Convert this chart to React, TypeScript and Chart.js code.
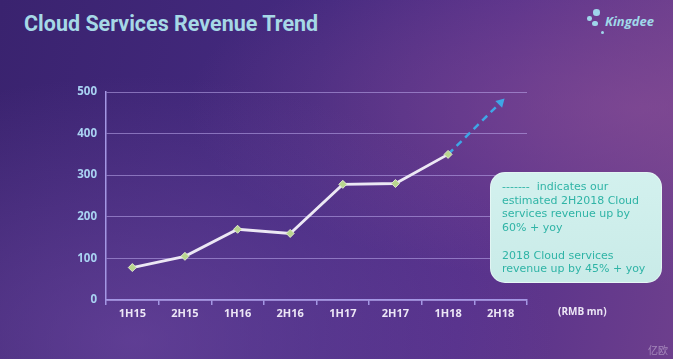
import React, { useEffect, useRef } from "react";
import { Chart, registerables } from "chart.js";

Chart.register(...registerables);

const categories = ["1H15", "2H15", "1H16", "2H16", "1H17", "2H17", "1H18", "2H18"];
const actualRevenue = [78, 105, 170, 160, 278, 280, 350, null];
const estimatedRevenue = [null, null, null, null, null, null, 350, 475];
const yMin = 0;
const yMax = 500;
const yStep = 100;

const titleText = "Cloud Services Revenue Trend";
const noteLines1 = ["-------  indicates our", "estimated 2H2018 Cloud", "services revenue up by", "60% + yoy"];
const noteLines2 = ["2018 Cloud services", "revenue up by 45% + yoy"];
const unitText = "(RMB mn)";

export default function App() {
  const canvasRef = useRef<HTMLCanvasElement | null>(null);

  useEffect(() => {
    const ctx = canvasRef.current;
    if (!ctx) return;
    const axisColor = "#a497e4";
    const chart = new Chart(ctx, {
      type: "line",
      data: {
        labels: categories,
        datasets: [
          {
            label: "Estimated",
            data: estimatedRevenue,
            borderColor: "#3fa6e6",
            borderWidth: 2.5,
            borderDash: [7, 5],
            pointStyle: "triangle",
            pointRotation: 45,
            pointRadius: [0, 0, 0, 0, 0, 0, 0, 3],
            pointBackgroundColor: "#3fa6e6",
            pointBorderColor: "#3fa6e6",
            spanGaps: false,
            order: 2,
          },
          {
            label: "Revenue",
            data: actualRevenue,
            borderColor: "#ece8f4",
            borderWidth: 2.8,
            pointStyle: "rectRot",
            pointRadius: 4,
            pointBackgroundColor: "#b9d68e",
            pointBorderColor: "#dfe8cc",
            pointBorderWidth: 1,
            order: 1,
          },
        ],
      },
      options: {
        animation: false,
        responsive: false,
        maintainAspectRatio: false,
        layout: { padding: { left: 0, top: 92, right: 146, bottom: 0 } },
        plugins: {
          legend: { display: false },
          tooltip: { enabled: false },
          title: { display: false },
        },
        scales: {
          x: {
            offset: true,
            afterFit: (s: any) => {
              s.height = 59;
            },
            grid: {
              offset: true,
              drawOnChartArea: false,
              drawTicks: true,
              tickLength: 5,
              color: axisColor,
              lineWidth: 1.5,
            },
            border: { color: axisColor, width: 1.5 },
            ticks: {
              color: "#ece6f6",
              padding: 2,
              font: { family: "'Open Sans', sans-serif", size: 11, weight: "bold" },
            },
          },
          y: {
            min: yMin,
            max: yMax,
            afterFit: (s: any) => {
              s.width = 106;
            },
            grid: {
              drawTicks: false,
              color: "rgba(190, 172, 238, 0.55)",
              lineWidth: 1,
            },
            border: { color: axisColor, width: 1.5 },
            ticks: {
              stepSize: yStep,
              color: "#a9d2f2",
              padding: 9,
              font: { family: "'Open Sans', sans-serif", size: 11.5, weight: "bold" },
            },
          },
        },
      },
    } as any);
    return () => chart.destroy();
  }, []);

  return (
    <div
      style={{
        position: "fixed",
        left: 0,
        top: 0,
        width: 673,
        height: 359,
        overflow: "hidden",
        background:
          "radial-gradient(ellipse at 20% 95%, rgba(120,80,170,0.55) 0%, rgba(120,80,170,0) 55%), radial-gradient(ellipse at 95% 30%, rgba(140,80,150,0.6) 0%, rgba(140,80,150,0) 50%), linear-gradient(100deg, #3a236f 0%, #452a80 45%, #55308a 70%, #6d3f8d 100%)",
        fontFamily: "'Open Sans', sans-serif",
      }}
    >
      <div
        style={{
          position: "absolute",
          left: 24,
          top: 11,
          fontFamily: "Roboto, sans-serif",
          fontWeight: 700,
          fontSize: 21.5,
          color: "#a6d8e6",
          whiteSpace: "nowrap",
          letterSpacing: 0,
        }}
      >
        {titleText}
      </div>
      {[
        [596.7, 12.3, 3.3],
        [589.3, 18.3, 2.3],
        [595, 23.5, 2.7],
        [602.3, 32.3, 1.7],
      ].map(([x, y, r], i) => (
        <div
          key={i}
          style={{
            position: "absolute",
            left: x - r,
            top: y - r,
            width: r * 2,
            height: r * 2,
            borderRadius: "50%",
            background: "#9fd6ea",
          }}
        />
      ))}
      <div
        style={{
          position: "absolute",
          left: 605,
          top: 12,
          fontFamily: "'Open Sans', sans-serif",
          fontWeight: 700,
          fontStyle: "italic",
          fontSize: 13,
          color: "#a0d8ea",
          whiteSpace: "nowrap",
        }}
      >
        Kingdee
      </div>
      <canvas
        ref={canvasRef}
        width={673}
        height={359}
        style={{ position: "absolute", left: 0, top: 0, width: 673, height: 359 }}
      />
      <div
        style={{
          position: "absolute",
          left: 490,
          top: 172,
          width: 172,
          height: 111,
          boxSizing: "border-box",
          borderRadius: 15,
          background: "linear-gradient(180deg, #d3f1ee 0%, #c9ebe8 100%)",
          border: "1px solid rgba(255,255,255,0.45)",
          padding: "7px 0 0 11px",
          color: "#2fb4a6",
          fontFamily: "'DejaVu Sans', sans-serif",
          fontSize: 11,
          lineHeight: "13.7px",
          whiteSpace: "nowrap",
        }}
      >
        {noteLines1.map((l, i) => (
          <div key={"a" + i} style={{ whiteSpace: "pre" }}>{l}</div>
        ))}
        <div style={{ height: 13.7 }} />
        {noteLines2.map((l, i) => (
          <div key={"b" + i}>{l}</div>
        ))}
      </div>
      <div
        style={{
          position: "absolute",
          left: 558,
          top: 304,
          fontSize: 10,
          fontWeight: 700,
          color: "#ece6f6",
          whiteSpace: "nowrap",
        }}
      >
        {unitText}
      </div>
      <div
        style={{
          position: "absolute",
          left: 648,
          top: 342,
          fontSize: 10,
          color: "rgba(230,220,240,0.45)",
          fontFamily: "'Noto Sans CJK SC', sans-serif",
          whiteSpace: "nowrap",
        }}
      >
        亿欧
      </div>
    </div>
  );
}
